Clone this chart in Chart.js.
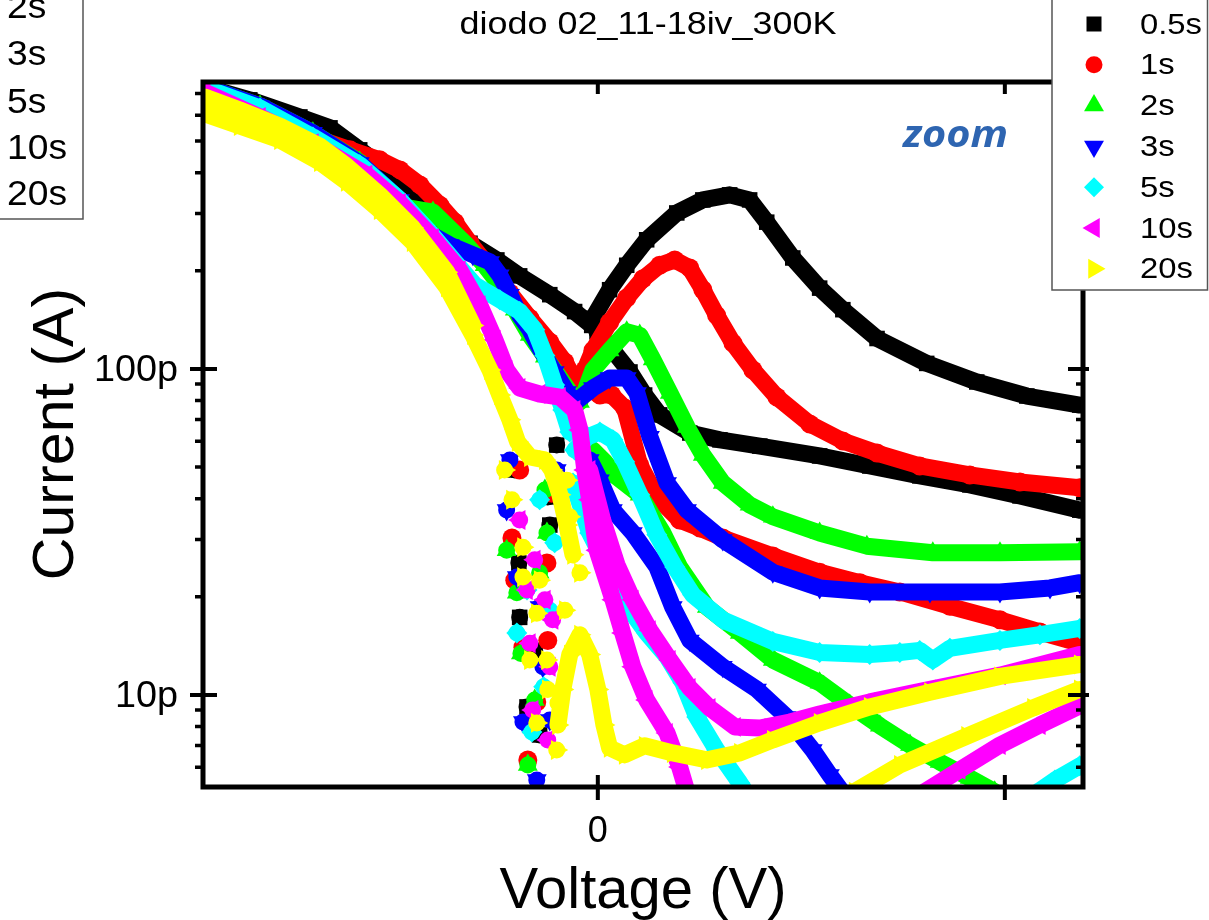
<!DOCTYPE html>
<html>
<head>
<meta charset="utf-8">
<script src="https://cdn.jsdelivr.net/npm/chart.js@4/dist/chart.umd.min.js"></script>
<style>
  html, body { margin: 0; padding: 0; background: #fff; }
  #wrap { position: relative; width: 1209px; height: 920px; }
</style>
</head>
<body>
<div id="wrap"><canvas id="chart"></canvas></div>
<script>
//! ------------------------ data ------------------------
const seriesNames = ["0.5s", "1s", "2s", "3s", "5s", "10s", "20s"];
const seriesColors = ["#000000", "#ff0000", "#00ff00", "#0000ff", "#00ffff", "#ff00ff", "#ffff00"];
const seriesStyles = ["rect", "circle", "triangle", "triangle", "rectRot", "triangle", "triangle"];
const seriesRotation = [0, 0, 0, 180, 0, -90, 90];
const seriesRadius = [11, 9.5, 11.5, 11.5, 10.5, 11.5, 11.5];

const yMajorTicks = [10, 100];
const yMajorLabels = ["10p", "100p"];
const yMinorTicks = [6, 7, 8, 9, 20, 30, 40, 50, 60, 70, 80, 90, 200, 300, 400, 500, 600, 700];
const xTicks = [0, 1];
const xTickLabels = ["0", ""];

// voltage (V) and current (pA); null splits the sweep branches
const v05 = [-0.966, -0.855, -0.732, -0.658, -0.585, -0.511, -0.437, -0.371, -0.314, -0.248, -0.192, -0.118, -0.057, -0.015, null,
  -0.012, 0.029, 0.071, 0.120, 0.194, 0.258, 0.324, 0.373, 0.415, 0.479, 0.545, 0.602, 0.686, 0.808, 0.931, 1.054, 1.184, null,
  -0.002, 0.037, 0.079, 0.115, 0.152, 0.226, 0.300, 0.398, 0.545, 0.668, 0.791, 0.914, 1.037, 1.184];
const i05 = [733, 669, 593, 549, 470, 402, 335, 275, 243, 216, 193, 169, 150, 136, null,
  143, 175, 208, 249, 301, 330, 342, 330, 282, 219, 177, 152, 124, 104, 91.2, 82.6, 77.5, null,
  130, 114, 97.9, 83.2, 72.3, 63.6, 60.6, 58.0, 54.1, 50.4, 47.0, 44.1, 40.8, 36.9];
const v05Pts = [-0.123, -0.194, -0.192, -0.174, -0.143, -0.101, -0.118, -0.192, -0.204, -0.155];
const i05Pts = [40.5, 25.4, 17.3, 9.19, 7.54, 58.4, 33.2, 21.0, 49.0, 13.7];

const v1 = [-0.966, -0.830, -0.700, -0.609, -0.536, -0.486, -0.437, -0.388, -0.351, -0.314, -0.265, -0.216, -0.167, -0.118, -0.081, -0.049, null,
  -0.032, -0.012, 0.029, 0.071, 0.111, 0.152, 0.189, 0.226, 0.258, 0.292, 0.332, 0.381, 0.440, 0.521, 0.602, 0.686, 0.791, 0.914, 1.037, 1.184, null,
  -0.020, 0.005, 0.034, 0.066, 0.103, 0.145, 0.201, 0.251, 0.307, 0.430, 0.545, 0.644, 0.742, 0.865, 0.988, 1.086, 1.184];
const i1 = [728, 632, 515, 470, 438, 408, 367, 318, 282, 243, 204, 171, 143, 121, 105, 89.3, null,
  99.3, 114, 139, 165, 189, 208, 216, 204, 175, 146, 120, 99.3, 82.0, 67.8, 60.1, 55.2, 50.4, 47.3, 45.0, 43.2, null,
  86.2, 83.2, 83.2, 75.9, 50.8, 40.5, 34.4, 32.5, 30.3, 26.7, 23.8, 22.1, 20.7, 18.7, 17.0, 15.6, 14.4];
const v1Pts = [-0.172, -0.150, -0.184, -0.211, -0.125, -0.113, -0.204, -0.123, -0.192];
const i1Pts = [6.32, 9.52, 14.0, 30.3, 25.4, 41.6, 22.5, 14.7, 49.0];

const v2 = [-0.966, -0.830, -0.700, -0.585, -0.504, -0.405, -0.322, -0.278, -0.241, -0.204, -0.167, -0.130, -0.093, -0.064, -0.044, null,
  -0.032, -0.012, 0.029, 0.071, 0.103, 0.135, 0.177, 0.219, 0.258, 0.307, 0.373, 0.430, 0.545, 0.661, 0.823, 0.988, 1.184, null,
  -0.012, 0.017, 0.047, 0.103, 0.160, 0.201, 0.268, 0.349, 0.430, 0.545, 0.619, 0.693, 0.767, 0.840, 0.914, 0.975];
const i2 = [733, 641, 530, 431, 318, 303, 240, 208, 181, 152, 127, 109, 93.8, 83.2, 79.2, null,
  85.0, 99.3, 114, 130, 127, 107, 84.4, 66.4, 54.5, 44.7, 38.3, 35.2, 31.4, 28.6, 27.3, 27.3, 27.5, null,
  56.4, 51.9, 46.6, 41.1, 31.4, 24.7, 18.6, 15.5, 12.8, 10.9, 9.32, 8.04, 7.02, 6.23, 5.56, 5.05];
const v2Pts = [-0.172, -0.189, -0.125, -0.143, -0.199, -0.224, -0.130, -0.155];
const i2Pts = [6.10, 13.4, 31.4, 23.7, 20.6, 27.8, 42.5, 9.65];

const v3 = [-0.966, -0.830, -0.700, -0.585, -0.486, -0.420, -0.364, -0.307, -0.265, -0.241, -0.216, -0.192, -0.167, -0.143, -0.106, -0.076, -0.057, null,
  -0.049, -0.012, 0.029, 0.071, 0.096, 0.128, 0.170, 0.219, 0.307, 0.430, 0.545, 0.668, 0.816, 0.988, 1.111, 1.184, null,
  -0.020, 0.005, 0.037, 0.086, 0.145, 0.184, 0.226, 0.307, 0.391, 0.464, 0.528, 0.570, 0.600];
const i3 = [733, 641, 530, 428, 330, 263, 240, 224, 213, 194, 169, 146, 132, 116, 97.9, 85.0, 79.2, null,
  80.3, 87.4, 93.8, 93.8, 84.4, 61.9, 44.7, 36.9, 29.9, 23.8, 21.3, 20.7, 20.7, 20.7, 21.3, 22.1, null,
  52.6, 45.6, 36.9, 31.4, 24.7, 18.6, 14.7, 12.2, 10.4, 8.56, 6.78, 5.68, 5.05];
const v3Pts = [-0.150, -0.135, -0.184, -0.143, -0.199, -0.224, -0.101, -0.216, -0.118];
const i3Pts = [5.48, 12.2, 8.26, 18.6, 23.0, 36.9, 49.0, 52.6, 8.38];

const v5 = [-0.966, -0.830, -0.700, -0.585, -0.486, -0.413, -0.351, -0.302, -0.241, -0.192, -0.155, -0.130, -0.106, -0.086, -0.069, null,
  -0.057, -0.025, 0.005, 0.037, 0.066, 0.103, 0.145, 0.189, 0.233, 0.307, 0.430, 0.545, 0.668, 0.742, 0.791, 0.823, 0.865, 0.988, 1.086, 1.184, null,
  -0.061, -0.020, 0.022, 0.061, 0.120, 0.170, 0.209, 0.243, 0.292, 0.349, 0.366, null,
  1.074, 1.123, 1.184];
const i5 = [728, 632, 515, 423, 330, 263, 213, 181, 163, 150, 132, 110, 89.3, 74.8, 64.1, null,
  56.4, 61.9, 64.1, 60.6, 51.9, 41.1, 31.0, 24.7, 20.3, 17.0, 14.6, 13.5, 13.3, 13.5, 13.7, 12.8, 13.9, 14.7, 15.3, 16.0, null,
  44.7, 31.4, 24.7, 19.6, 15.5, 13.1, 10.9, 8.56, 6.78, 5.37, 4.97, null,
  4.97, 5.48, 6.06];
const v5Pts = [-0.133, -0.162, -0.106, -0.199, -0.174, -0.118, -0.143];
const i5Pts = [10.6, 7.70, 29.3, 15.5, 21.0, 18.2, 39.7];

const v10 = [-0.966, -0.830, -0.700, -0.568, -0.486, -0.405, -0.339, -0.290, -0.253, -0.224, -0.192, -0.143, -0.093, -0.057,
  -0.044, -0.032, -0.020, -0.002, 0.037, 0.061, 0.086, 0.120, 0.170, 0.201, 0.219, null,
  -0.020, 0.012, 0.047, 0.086, 0.128, 0.177, 0.226, 0.275, 0.337, 0.398, 0.472, 0.545, 0.668, 0.816, 0.988, 1.184, null,
  0.803, 0.889, 0.988, 1.086, 1.184];
const i10 = [707, 593, 493, 394, 323, 252, 201, 157, 123, 99.3, 87.4, 83.8, 82.0, 74.8,
  65.0, 49.0, 39.7, 27.8, 19.6, 15.5, 12.2, 9.65, 7.64, 6.01, 5.05, null,
  49.0, 34.4, 25.1, 19.6, 15.8, 12.8, 10.5, 9.12, 7.98, 7.92, 8.26, 8.74, 9.52, 10.4, 11.5, 13.3, null,
  5.05, 5.89, 7.02, 8.09, 9.25];
const v10Pts = [-0.167, -0.118, -0.111, -0.174, -0.123, -0.160, -0.155, -0.192, -0.130];
const i10Pts = [14.4, 12.2, 17.0, 21.0, 7.28, 8.99, 26.0, 34.4, 19.6];

const v20 = [-0.966, -0.880, -0.781, -0.683, -0.617, -0.536, -0.455, -0.371, -0.307, -0.265, -0.241, -0.216, -0.197, -0.167, -0.130, -0.113, -0.093, -0.076, -0.061, null,
  -0.966, -0.880, -0.781, -0.683, -0.617, -0.536, -0.455, -0.371, -0.307, null,
  -0.098, -0.086, -0.069, -0.044, -0.020, 0, 0.015, 0.029, 0.066, 0.115, 0.184, 0.268, 0.349, 0.430, 0.545, 0.668, 0.816, 0.988, 1.184, null,
  0.631, 0.742, 0.907, 1.069, 1.184];
const i20 = [606, 556, 504, 431, 375, 307, 245, 178, 127, 99.3, 83.2, 69.8, 59.7, 53.7, 52.6, 49.0, 41.1, 33.2, 26.9, null,
  683, 623, 556, 483, 419, 342, 271, 198, 136, null,
  8.09, 10.4, 13.3, 15.3, 13.3, 10.4, 8.09, 6.88, 6.55, 6.98, 6.64, 6.32, 6.64, 7.28, 8.21, 9.19, 10.2, 11.4, 12.4, null,
  5.05, 6.10, 7.48, 9.12, 10.4];
const v20Pts = [-0.184, -0.184, -0.150, -0.125, -0.150, -0.101, -0.098, -0.167, -0.076, -0.069, -0.044, -0.211, -0.229, -0.143, -0.123, -0.081];
const i20Pts = [28.4, 23.0, 17.8, 12.8, 8.21, 6.78, 9.45, 12.8, 45.6, 35.2, 23.7, 39.7, 49.0, 22.5, 10.4, 18.2];

const allV = [v05, v1, v2, v3, v5, v10, v20];
const allI = [i05, i1, i2, i3, i5, i10, i20];
const allVPts = [v05Pts, v1Pts, v2Pts, v3Pts, v5Pts, v10Pts, v20Pts];
const allIPts = [i05Pts, i1Pts, i2Pts, i3Pts, i5Pts, i10Pts, i20Pts];

//! ------------------------ helpers ------------------------
const toPoints = (vs, is, vPts, iPts) => {
  const out = [];
  vs.forEach((v, k) => {
    out.push(v === null ? { x: null, y: null } : { x: v, y: is[k] });
  });
  // loose points, each one on its own
  vPts.forEach((v, k) => {
    out.push({ x: null, y: null });
    out.push({ x: v, y: iPts[k] });
  });
  return out;
};

const drawText = (ctx, str, x, y, font, align, sx) => {
  ctx.save();
  ctx.font = font;
  ctx.textAlign = align;
  ctx.textBaseline = "alphabetic";
  ctx.fillStyle = "#000";
  ctx.translate(x, y);
  ctx.scale(sx || 1, 1);
  ctx.fillText(str, 0, 0);
  ctx.restore();
};

const fitScale = (ctx, str, font, target) => {
  ctx.save();
  ctx.font = font;
  const w = ctx.measureText(str).width;
  ctx.restore();
  return target / w;
};

const drawMarker = (ctx, style, rot, x, y, r, color) => {
  ctx.save();
  ctx.fillStyle = color;
  ctx.beginPath();
  if (style === "rect") {
    ctx.rect(x - r * 0.75, y - r * 0.75, r * 1.5, r * 1.5);
  } else if (style === "circle") {
    ctx.arc(x, y, r, 0, Math.PI * 2);
  } else if (style === "rectRot") {
    ctx.moveTo(x, y - r);
    ctx.lineTo(x + r, y);
    ctx.lineTo(x, y + r);
    ctx.lineTo(x - r, y);
  } else {
    let a = (rot * Math.PI) / 180;
    ctx.moveTo(x + Math.sin(a) * r, y - Math.cos(a) * r);
    for (let k = 0; k < 2; k++) {
      a += (2 * Math.PI) / 3;
      ctx.lineTo(x + Math.sin(a) * r, y - Math.cos(a) * r);
    }
  }
  ctx.closePath();
  ctx.fill();
  ctx.restore();
};

//! ------------------------ axes, texts, legends ------------------------
const decor = {
  id: "decor",
  afterDatasetsDraw(chart) {
    const { ctx, chartArea: a } = chart;
    const xs = chart.scales.x;
    const ys = chart.scales.y;
    ctx.save();
    ctx.strokeStyle = "#000";
    ctx.lineCap = "butt";

    ctx.lineWidth = 4;
    yMajorTicks.forEach((t) => {
      const y = ys.getPixelForValue(t);
      ctx.beginPath();
      ctx.moveTo(a.left - 13, y);
      ctx.lineTo(a.left + 14, y);
      ctx.moveTo(a.right - 15, y);
      ctx.lineTo(a.right + 6, y);
      ctx.stroke();
    });
    ctx.lineWidth = 3.5;
    yMinorTicks.forEach((t) => {
      const y = ys.getPixelForValue(t);
      ctx.beginPath();
      ctx.moveTo(a.left - 8, y);
      ctx.lineTo(a.left, y);
      ctx.moveTo(a.right - 7, y);
      ctx.lineTo(a.right, y);
      ctx.stroke();
    });
    ctx.lineWidth = 4;
    xTicks.forEach((t) => {
      const x = xs.getPixelForValue(t);
      ctx.beginPath();
      ctx.moveTo(x, a.bottom - 12);
      ctx.lineTo(x, a.bottom + 13);
      ctx.moveTo(x, a.top);
      ctx.lineTo(x, a.top + 12);
      ctx.stroke();
    });

    ctx.lineWidth = 5;
    ctx.strokeRect(a.left, a.top, a.right - a.left, a.bottom - a.top);
    ctx.restore();

    // tick labels
    const tickFont = "36px 'Liberation Sans', Arial, sans-serif";
    yMajorTicks.forEach((t, k) => {
      drawText(ctx, yMajorLabels[k], 178, ys.getPixelForValue(t) + 12, tickFont, "right", 1.05);
    });
    xTicks.forEach((t, k) => {
      drawText(ctx, xTickLabels[k], xs.getPixelForValue(t), 842, tickFont, "center", 1);
    });

    // axis titles
    const titleFont = "58px 'Liberation Sans', Arial, sans-serif";
    drawText(ctx, "Voltage (V)", 643, 908, titleFont, "center", 1);
    ctx.save();
    ctx.translate(73, 434);
    ctx.rotate(-Math.PI / 2);
    drawText(ctx, "Current (A)", 0, 0, titleFont, "center", 1.02);
    ctx.restore();

    // chart title
    const headFont = "31px 'Liberation Sans', Arial, sans-serif";
    const head = "diodo 02_11-18iv_300K";
    drawText(ctx, head, 648, 34, headFont, "center", fitScale(ctx, head, headFont, 377));

    // zoom note
    const zoomFont = "italic bold 38px 'Open Sans', sans-serif";
    ctx.save();
    ctx.fillStyle = "#2e65b1";
    ctx.font = zoomFont;
    ctx.textAlign = "left";
    ctx.translate(903, 147);
    ctx.scale(fitScale(ctx, "zoom", zoomFont, 105), 1);
    ctx.fillText("zoom", 0, 0);
    ctx.restore();

    // right legend
    ctx.save();
    ctx.fillStyle = "#fff";
    ctx.fillRect(1052, -5, 155.5, 295);
    ctx.strokeStyle = "#555";
    ctx.lineWidth = 1.5;
    ctx.strokeRect(1052, -5, 155.5, 295);
    ctx.restore();
    const legFont = "29px 'Liberation Sans', Arial, sans-serif";
    const legScale = fitScale(ctx, "0.5s", legFont, 62);
    const legSize = [10, 8.5, 11.5, 11.5, 10, 11.5, 11.5];
    seriesNames.forEach((name, k) => {
      const y = 23 + 40.8 * k;
      drawMarker(ctx, seriesStyles[k], seriesRotation[k], 1094, y + 1, legSize[k], seriesColors[k]);
      drawText(ctx, name, 1140, y + 10.5, legFont, "left", legScale);
    });

    // left legend (cut off by the page edge)
    ctx.save();
    ctx.fillStyle = "#fff";
    ctx.fillRect(-5, -5, 88, 224);
    ctx.strokeStyle = "#555";
    ctx.lineWidth = 1.5;
    ctx.strokeRect(-5, -5, 88, 224);
    ctx.restore();
    const leftFont = "35px 'Liberation Sans', Arial, sans-serif";
    const leftScale = fitScale(ctx, "20s", leftFont, 60);
    const leftBase = [18, 65, 113, 159, 205];
    seriesNames.slice(2).forEach((name, k) => {
      drawText(ctx, name, 7, leftBase[k], leftFont, "left", leftScale);
    });
  },
};

//! ------------------------ chart ------------------------
const datasets = seriesNames.map((name, k) => ({
  label: name,
  data: toPoints(allV[k], allI[k], allVPts[k], allIPts[k]),
  showLine: true,
  spanGaps: false,
  borderColor: seriesColors[k],
  borderWidth: 17,
  borderJoinStyle: "round",
  borderCapStyle: "round",
  backgroundColor: seriesColors[k],
  pointStyle: seriesStyles[k],
  pointRotation: seriesRotation[k],
  pointRadius: seriesRadius[k],
  pointBackgroundColor: seriesColors[k],
  pointBorderWidth: 0,
  clip: 0,
  order: seriesNames.length - k,
}));

new Chart(document.getElementById("chart"), {
  type: "scatter",
  data: { datasets },
  options: {
    responsive: true,
    maintainAspectRatio: false,
    animation: false,
    events: [],
    layout: { padding: { left: 203, top: 82, right: 126, bottom: 133 } },
    plugins: { legend: { display: false }, tooltip: { enabled: false } },
    scales: {
      x: { type: "linear", display: false, min: -0.97, max: 1.192 },
      y: { type: "logarithmic", display: false, min: 5.22, max: 759 },
    },
  },
  plugins: [decor],
});
</script>
</body>
</html>
